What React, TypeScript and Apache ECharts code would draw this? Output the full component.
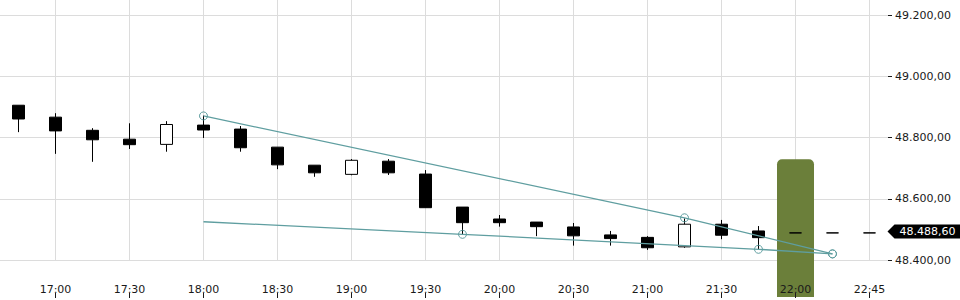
import React, { useEffect, useRef } from 'react';
import * as echarts from 'echarts';

const categories = [
  '16:45', '17:00', '17:15', '17:30', '17:45', '18:00', '18:15', '18:30',
  '18:45', '19:00', '19:15', '19:30', '19:45', '20:00', '20:15', '20:30',
  '20:45', '21:00', '21:15', '21:30', '21:45', '22:00', '22:15', '22:45',
];

const opens = [
  48906, 48867, 48824, 48795, 48778, 48841, 48828, 48769,
  48710, 48680, 48723, 48681, 48573, 48534, 48524, 48508,
  48482, 48474, 48443, 48517, 48495, 48488.6, 48488.6, 48488.6,
];
const closes = [
  48861, 48822, 48793, 48777, 48843, 48825, 48767, 48711,
  48685, 48726, 48685, 48571, 48522, 48522, 48509, 48479,
  48470, 48440, 48517, 48481, 48473, 48488.6, 48488.6, 48488.6,
];
const lows = [
  48818, 48747, 48721, 48763, 48754, 48799, 48754, 48697,
  48672, 48677, 48678, 48571, 48484, 48509, 48478, 48447,
  48447, 48433, 48440, 48468, 48435, 48488.6, 48488.6, 48488.6,
];
const highs = [
  48906, 48880, 48831, 48847, 48854, 48872, 48838, 48769,
  48710, 48730, 48730, 48694, 48573, 48547, 48524, 48521,
  48495, 48478, 48536, 48531, 48511, 48488.6, 48488.6, 48488.6,
];

const upperTrendTimes = ['18:00', '21:15', '22:15'];
const upperTrendValues = [48871, 48538, 48420];
const lowerTrendTimes = ['18:00', '19:45', '21:45', '22:15'];
const lowerTrendValues = [48525, 48484, 48435, 48420];
const lowerTrendMarked = [false, true, true, true];

const highlightTime = '22:00';
const highlightValue = 48730;

const lastPrice = 48488.6;
const lastTime = '22:45';

const yTicks = [48400, 48600, 48800, 49000, 49200];

function fmt(v: number): string {
  const fixed = Math.abs(v).toFixed(2);
  const [ip, dp] = fixed.split('.');
  const withSep = ip.replace(/\B(?=(\d{3})+(?!\d))/g, '.');
  return (v < 0 ? '-' : '') + withSep + ',' + dp;
}

const oddIdx = (i: number) => i % 2 === 1;

export default function App() {
  const ref = useRef<HTMLDivElement>(null);
  useEffect(() => {
    document.body.style.margin = '0';
    if (!ref.current) return;
    const chart = echarts.init(ref.current, undefined, { renderer: 'svg' });
    const TEAL = '#5F9EA0';
    const TEXT = '#1a1a1a';
    const GRID = '#dcdcdc';
    const candleData = categories.map((_, i) => [opens[i], closes[i], lows[i], highs[i]]);
    const highlightData = categories.map((c) => (c === highlightTime ? highlightValue : null));
    chart.setOption({
      animation: false,
      textStyle: { fontFamily: 'DejaVu Sans' },
      grid: [
        { left: 0, right: 72, top: 0, bottom: 40 },
        { left: 0, right: 72, top: 0, bottom: 3 },
      ],
      xAxis: [
        {
          type: 'category', gridIndex: 0, data: categories, boundaryGap: true,
          axisLine: { show: false }, axisTick: { show: false }, axisLabel: { show: false },
          splitLine: { show: true, interval: oddIdx, alignWithLabel: true, lineStyle: { color: GRID, width: 1 } },
          z: 0,
        },
        {
          type: 'category', gridIndex: 0, data: categories, boundaryGap: true,
          position: 'bottom', offset: 38,
          axisLine: { show: false },
          axisTick: { show: true, inside: true, length: 5, alignWithLabel: true, interval: oddIdx, lineStyle: { color: TEXT } },
          axisLabel: { show: true, inside: true, margin: 3, interval: oddIdx, color: TEXT, fontSize: 11, fontFamily: 'DejaVu Sans' },
          splitLine: { show: false },
          z: 10,
        },
        {
          type: 'category', gridIndex: 1, data: categories, boundaryGap: true, show: false,
        },
      ],
      yAxis: [
        {
          type: 'value', gridIndex: 0, position: 'right', min: 48400, max: 49250, interval: 200,
          axisLine: { show: false },
          axisTick: { show: true, length: 4, lineStyle: { color: TEXT }, customValues: yTicks },
          axisLabel: {
            show: true, margin: 7, color: TEXT, fontSize: 11, fontFamily: 'DejaVu Sans',
            formatter: (v: number) => fmt(v), customValues: yTicks,
          },
          splitLine: { show: true, lineStyle: { color: GRID, width: 1 } },
        },
        {
          type: 'value', gridIndex: 1, min: 48280, max: 49250, startValue: 48280, show: false,
          splitLine: { show: false },
        },
      ],
      series: [
        {
          type: 'bar', xAxisIndex: 2, yAxisIndex: 1, data: highlightData,
          barWidth: '100%', z: 1, silent: true,
          itemStyle: { color: '#6B7F3A', borderRadius: [5, 5, 0, 0] },
        },
        {
          type: 'candlestick', xAxisIndex: 0, yAxisIndex: 0, data: candleData,
          barWidth: 12, z: 3,
          itemStyle: {
            color: '#ffffff', color0: '#000000',
            borderColor: '#000000', borderColor0: '#000000', borderColorDoji: '#000000',
            borderWidth: 1,
          },
          markPoint: {
            silent: true,
            data: [
              {
                coord: [lastTime, lastPrice],
                symbol: 'path://M0,7L7,0L74,0L74,14L7,14Z',
                symbolSize: [74, 14],
                symbolOffset: [55, -1.5],
                itemStyle: { color: '#000' },
                label: {
                  show: true, position: 'inside', offset: [3, 0],
                  formatter: fmt(lastPrice), color: '#fff', fontSize: 11, fontFamily: 'DejaVu Sans',
                },
              },
            ],
          },
        },
        {
          type: 'line', xAxisIndex: 0, yAxisIndex: 0, z: 4,
          data: upperTrendTimes.map((t, i) => [t, upperTrendValues[i]]),
          symbol: 'circle', symbolSize: 8, showSymbol: true,
          lineStyle: { color: TEAL, width: 1.3 },
          itemStyle: { color: 'rgba(255,255,255,0)', borderColor: TEAL, borderWidth: 1 },
        },
        {
          type: 'line', xAxisIndex: 0, yAxisIndex: 0, z: 4,
          data: lowerTrendTimes.map((t, i) => ({
            value: [t, lowerTrendValues[i]],
            symbol: lowerTrendMarked[i] ? 'circle' : 'none',
          })),
          symbol: 'circle', symbolSize: 8, showSymbol: true,
          lineStyle: { color: TEAL, width: 1.3 },
          itemStyle: { color: 'rgba(255,255,255,0)', borderColor: TEAL, borderWidth: 1 },
        },
      ],
    });
    return () => chart.dispose();
  }, []);
  return <div ref={ref} style={{ width: 960, height: 300 }} />;
}
